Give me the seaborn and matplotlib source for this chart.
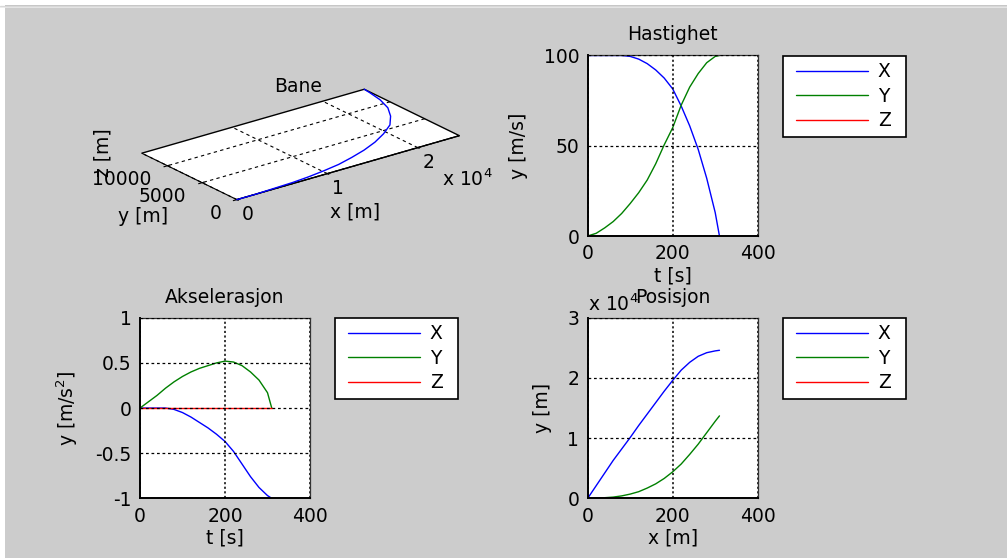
import numpy as np
import pandas as pd
import matplotlib
matplotlib.use("Agg")
import matplotlib.pyplot as plt
from matplotlib.patches import Rectangle
from matplotlib.lines import Line2D
from matplotlib.legend_handler import HandlerLine2D
from matplotlib.ticker import FuncFormatter
import seaborn as sns

sns.set_style("white")
plt.rcParams["font.family"] = ["DejaVu Sans"]
plt.rcParams["font.size"] = 13.5
plt.rcParams["mathtext.fontset"] = "dejavusans"
plt.rcParams["text.color"] = "black"
plt.rcParams["axes.labelcolor"] = "black"
plt.rcParams["axes.titlecolor"] = "black"
plt.rcParams["xtick.color"] = "black"
plt.rcParams["ytick.color"] = "black"

FS = 13.5

# time samples [s]
t = [0, 20, 40, 60, 80, 100, 120, 140, 160, 180, 200, 220, 240, 260, 280, 300, 310]

# velocity [m/s]
vel_x = [100, 100, 100, 100, 100, 99.5, 98, 95.5, 92, 87.5, 81.5, 72, 61, 48, 32, 13, 0]
vel_y = [0, 1.5, 4.5, 8, 12.5, 18, 24, 31, 40, 50.5, 60, 72.5, 82.5, 90, 96, 99.5, 100]
vel_z = [0] * len(t)

# acceleration [m/s^2]
acc_x = [0, 0, 0, 0, -0.015, -0.05, -0.10, -0.16, -0.22, -0.29, -0.37, -0.48,
         -0.62, -0.76, -0.88, -0.97, -1.0]
acc_y = [0, 0.07, 0.14, 0.22, 0.29, 0.35, 0.40, 0.44, 0.47, 0.50, 0.52, 0.51,
         0.47, 0.40, 0.31, 0.17, 0.0]
acc_z = [0] * len(t)

# position [m]
pos_x = [0, 2100, 4200, 6300, 8200, 10100, 12100, 14000, 15900, 17800, 19600,
         21300, 22600, 23600, 24200, 24500, 24600]
pos_y = [0, 0, 100, 200, 400, 700, 1100, 1700, 2400, 3300, 4400, 5700, 7300,
         9000, 10900, 12800, 13700]
pos_z = [0] * len(t)

components = ["X", "Y", "Z"]
colors = {"X": "#0000ff", "Y": "#008000", "Z": "#ff0000"}

W, H = 1007, 558
fig = plt.figure(figsize=(W / 100, H / 100), dpi=100, facecolor="#cccccc")

# window frame strips
fig.add_artist(Rectangle((0, 0), 5 / W, 1, transform=fig.transFigure,
                         facecolor="white", edgecolor="none", zorder=0))
fig.add_artist(Rectangle((0, 1 - 5 / H), 1, 5 / H, transform=fig.transFigure,
                         facecolor="white", edgecolor="none", zorder=0))
fig.add_artist(Line2D([0, 1], [1 - 5.5 / H] * 2, transform=fig.transFigure,
                      color="#808080", lw=0.8))
fig.add_artist(Line2D([0, 1], [1 - 7 / H] * 2, transform=fig.transFigure,
                      color="#eaeaea", lw=1.2))


def fx(px):
    return px / W


def fy(py):
    return 1 - py / H


def style_2d(ax):
    ax.set_facecolor("white")
    for side in ["left", "bottom"]:
        ax.spines[side].set_color("black")
        ax.spines[side].set_linewidth(1.4)
    for side in ["top", "right"]:
        ax.spines[side].set_color("#333333")
        ax.spines[side].set_linewidth(0.9)
    ax.tick_params(length=0, pad=6, labelsize=FS, colors="black")
    ax.xaxis.grid(True, color="black", linestyle=(0, (1.4, 1.6)), linewidth=1.1)
    ax.yaxis.grid(True, color="black", linestyle=(0, (2.2, 2.2)), linewidth=0.9)
    ax.set_axisbelow(False)


def add_legend(ax, left_px, top_px):
    fs_px = FS * 100 / 72
    leg = ax.legend(loc="upper left",
                    bbox_to_anchor=(fx(left_px), fy(top_px), 123 / W, 0),
                    bbox_transform=fig.transFigure, borderaxespad=0,
                    mode="expand", frameon=True, fancybox=False,
                    handlelength=(72 + 7) / fs_px, handletextpad=0.5,
                    borderpad=0.34, labelspacing=0.29, fontsize=FS,
                    handler_map={Line2D: HandlerLine2D(xpad=7 / fs_px)})
    frame = leg.get_frame()
    frame.set_edgecolor("black")
    frame.set_linewidth(1.2)
    frame.set_facecolor("white")
    frame.set_alpha(1)


def line_panel(rect, series, title, xlabel, ylabel, ylim, yticks, leg_pos):
    ax = fig.add_axes(rect)
    df = pd.DataFrame({"t": t * 3,
                       "val": series[0] + series[1] + series[2],
                       "komp": sum([[c] * len(t) for c in components], [])})
    sns.lineplot(data=df, x="t", y="val", hue="komp", palette=colors,
                 hue_order=components, ax=ax, linewidth=1.0, sort=False)
    ax.set_xlim(0, 400)
    ax.set_ylim(*ylim)
    ax.set_xticks([0, 200, 400])
    ax.set_yticks(yticks)
    ax.set_title(title, fontsize=FS, pad=11)
    ax.set_xlabel(xlabel, fontsize=FS, labelpad=2)
    ax.set_ylabel(ylabel, fontsize=FS, labelpad=11)
    style_2d(ax)
    add_legend(ax, *leg_pos)
    return ax


w2d = 170 / W
h2d = 180.5 / H

ax_v = line_panel([fx(587.7), fy(236), w2d, h2d], [vel_x, vel_y, vel_z],
                  "Hastighet", "t [s]", "y [m/s]", (0, 100), [0, 50, 100],
                  (783, 56))

ax_a = line_panel([fx(140), fy(498.3), w2d, h2d], [acc_x, acc_y, acc_z],
                  "Akselerasjon", "t [s]", "y [m/s$^2$]", (-1, 1),
                  [-1, -0.5, 0, 0.5, 1], (335, 318))
ax_a.yaxis.set_major_formatter(FuncFormatter(lambda v, p: f"{v:g}"))

ax_p = line_panel([fx(587.7), fy(498.3), w2d, h2d], [pos_x, pos_y, pos_z],
                  "Posisjon", "x [m]", "y [m]", (0, 30000),
                  [0, 10000, 20000, 30000], (783, 318))
ax_p.yaxis.set_major_formatter(FuncFormatter(lambda v, p: f"{v / 1e4:g}"))
ax_p.text(0.0, 1.015, "x 10$^4$", transform=ax_p.transAxes, fontsize=FS,
          ha="left", va="bottom")

# 3D trajectory (equal data aspect, z collapses to a flat plane)
ax3_top, ax3_bot = 52, 242
ax3 = fig.add_axes([fx(88), fy(ax3_bot), fx(420), (ax3_bot - ax3_top) / H],
                   projection="3d", proj_type="ortho")
ax3.patch.set_alpha(0)
ax3.plot(pos_x, pos_y, pos_z, color="#0000ff", lw=1.0)
ax3.set_xlim(0, max(pos_x))
ax3.set_ylim(0, max(pos_y))
ax3.set_zlim(-1, 1)
ax3.set_box_aspect((max(pos_x), max(pos_y), 2), zoom=1.64)
ax3.view_init(elev=22, azim=-127.5)
ax3.set_xticks([0, 10000, 20000])
ax3.set_xticklabels(["0", "1", "2"])
ax3.set_yticks([0, 5000, 10000])
ax3.set_yticklabels(["0", "5000", "10000"], ha="right")
ax3.set_zticks([])
for axis in (ax3.xaxis, ax3.yaxis, ax3.zaxis):
    axis.set_pane_color((1, 1, 1, 0))
    axis._axinfo["grid"].update({"color": "black", "linestyle": (0, (3, 3)),
                                 "linewidth": 0.8})
    axis.line.set_color("black")
    axis.line.set_linewidth(0.8)
ax3.zaxis.set_pane_color((1, 1, 1, 1))
ax3.zaxis.pane.set_edgecolor("black")
ax3.tick_params(labelsize=FS, pad=0)
ax3.yaxis.set_tick_params(pad=-3)
ax3.set_title("Bane", fontsize=FS, pad=0,
              y=(ax3_bot - 79) / (ax3_bot - ax3_top))
fig.text(fx(442), fy(190), "x 10$^4$", fontsize=FS, ha="left", va="bottom")
fig.text(fx(355), fy(212), "x [m]", fontsize=FS, ha="center", va="center")
fig.text(fx(143), fy(217), "y [m]", fontsize=FS, ha="center", va="center")
fig.text(fx(103), fy(153), "z [m]", fontsize=FS, ha="center", va="center",
         rotation=90)

fig.savefig("out.png", dpi=100, facecolor=fig.get_facecolor())
